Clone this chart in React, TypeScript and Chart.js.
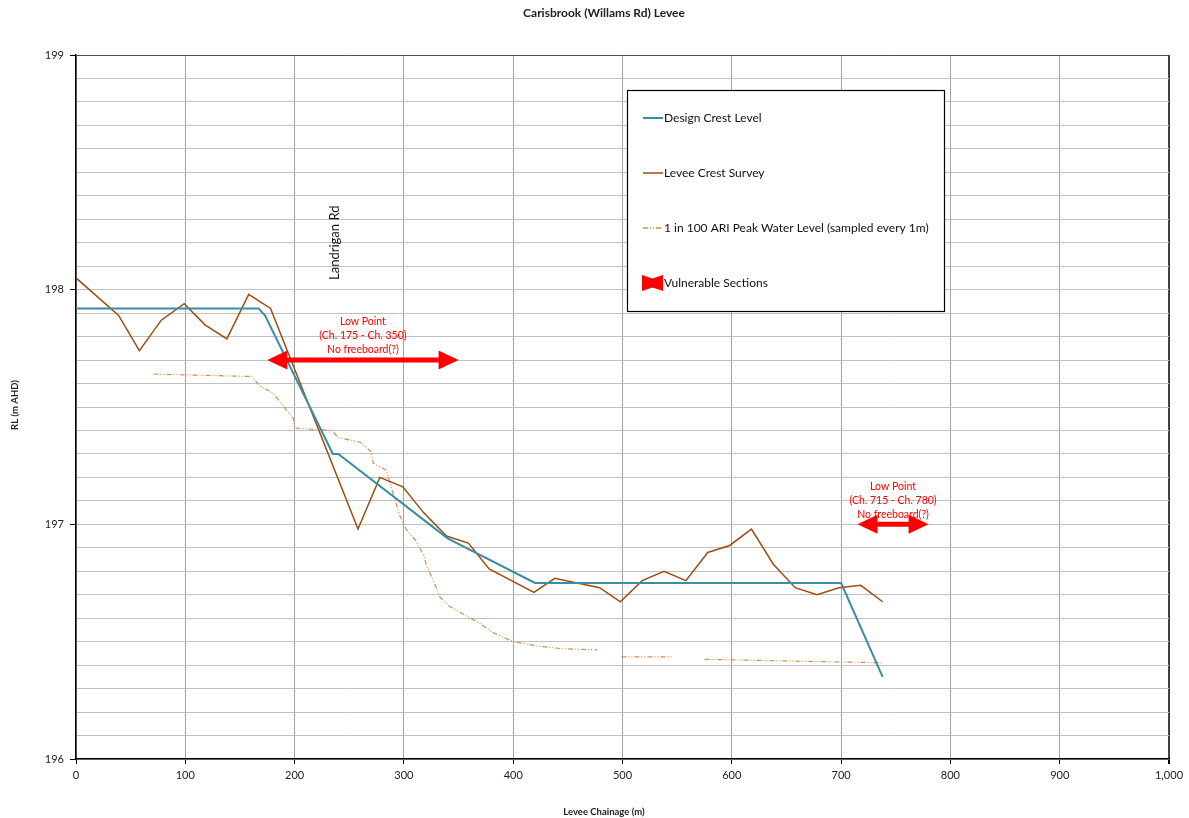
import React, { useEffect, useRef } from 'react';
import { Chart, registerables } from 'chart.js';

Chart.register(...registerables);

const TITLE = 'Carisbrook (Willams Rd) Levee';
const X_TITLE = 'Levee Chainage (m)';
const Y_TITLE = 'RL (m AHD)';

const X_MIN = 0;
const X_MAX = 1000;
const X_STEP = 100;
const Y_MIN = 196;
const Y_MAX = 199;
const Y_STEP = 0.1;

const seriesNames = [
  'Design Crest Level',
  'Levee Crest Survey',
  '1 in 100 ARI Peak Water Level (sampled every 1m)',
  'Vulnerable Sections',
];

const designX = [0, 167, 173, 235, 240, 340, 420, 700, 738];
const designY = [197.92, 197.92, 197.89, 197.3, 197.3, 196.94, 196.75, 196.75, 196.35];

const surveyX = [0, 39, 58, 78, 99, 118, 138, 158, 178, 258, 278, 299, 318, 339, 359, 378, 419, 438, 479, 498, 518, 538, 558, 578, 598, 618, 638, 658, 678, 698, 718, 738];
const surveyY = [198.05, 197.89, 197.74, 197.87, 197.94, 197.85, 197.79, 197.98, 197.92, 196.98, 197.2, 197.16, 197.05, 196.95, 196.92, 196.81, 196.71, 196.77, 196.73, 196.67, 196.76, 196.8, 196.76, 196.88, 196.91, 196.98, 196.83, 196.73, 196.7, 196.73, 196.74, 196.67];

const waterX = [71, 161, 168, 180, 187, 199, 200, 234, 240, 260, 270, 272, 284, 287, 296, 302, 311, 318, 321, 327, 333, 342, 357, 369, 381, 400, 424, 445, 477, 488, 499, 545, 560, 575, 625, 680, 739];
const waterY = [197.64, 197.63, 197.59, 197.56, 197.52, 197.45, 197.41, 197.4, 197.37, 197.35, 197.31, 197.26, 197.23, 197.18, 197.04, 196.98, 196.93, 196.87, 196.82, 196.76, 196.69, 196.65, 196.61, 196.58, 196.54, 196.5, 196.48, 196.47, 196.465, null, 196.435, 196.435, null, 196.425, 196.42, 196.415, 196.41];

const vulnStart = [175, 715];
const vulnEnd = [350, 780];
const vulnLevel = [197.7, 197.0];
const vulnLabels = [
  ['Low Point', '(Ch. 175 - Ch. 350)', 'No freeboard(?)'],
  ['Low Point', '(Ch. 715 - Ch. 780)', 'No freeboard(?)'],
];

const roadLabel = 'Landrigan Rd';
const roadX = 237;
const roadY = 198.2;

const DESIGN_COLOR = '#3b8ca6';
const SURVEY_COLOR = '#9c4d12';
const WATER_COLOR = '#d48c4f';
const RED = '#ff0000';
const FONT = 'Lato, "Noto Sans", sans-serif';

function drawArrow(ctx: CanvasRenderingContext2D, x1: number, x2: number, y: number) {
  const head = 20;
  const half = 9.5;
  ctx.save();
  ctx.fillStyle = RED;
  ctx.strokeStyle = RED;
  ctx.lineWidth = 5;
  ctx.beginPath();
  ctx.moveTo(x1 + head - 2, y);
  ctx.lineTo(x2 - head + 2, y);
  ctx.stroke();
  ctx.beginPath();
  ctx.moveTo(x1, y);
  ctx.lineTo(x1 + head, y - half);
  ctx.lineTo(x1 + head, y + half);
  ctx.closePath();
  ctx.fill();
  ctx.beginPath();
  ctx.moveTo(x2, y);
  ctx.lineTo(x2 - head, y - half);
  ctx.lineTo(x2 - head, y + half);
  ctx.closePath();
  ctx.fill();
  ctx.restore();
}

const overlayPlugin = {
  id: 'overlay',
  afterDraw(chart: any) {
    const ctx: CanvasRenderingContext2D = chart.ctx;
    const xs = chart.scales.x;
    const ys = chart.scales.y;
    ctx.save();

    // title
    ctx.fillStyle = '#222';
    ctx.font = `bold 12px ${FONT}`;
    ctx.textAlign = 'center';
    ctx.textBaseline = 'middle';
    ctx.fillText(TITLE, 604, 13);

    // axis titles
    ctx.font = `bold 9.5px ${FONT}`;
    ctx.fillText(X_TITLE, 604, 812);
    ctx.save();
    ctx.translate(15, 405);
    ctx.rotate(-Math.PI / 2);
    ctx.fillText(Y_TITLE, 0, 0);
    ctx.restore();

    // road label
    ctx.save();
    ctx.fillStyle = '#111';
    ctx.font = `13px ${FONT}`;
    ctx.translate(xs.getPixelForValue(roadX), ys.getPixelForValue(roadY));
    ctx.rotate(-Math.PI / 2);
    ctx.textAlign = 'center';
    ctx.textBaseline = 'middle';
    ctx.fillText(roadLabel, 0, 0);
    ctx.restore();

    // vulnerable sections
    for (let i = 0; i < vulnStart.length; i++) {
      const x1 = xs.getPixelForValue(vulnStart[i]);
      const x2 = xs.getPixelForValue(vulnEnd[i]);
      const y = ys.getPixelForValue(vulnLevel[i]);
      drawArrow(ctx, x1, x2, y);
      ctx.fillStyle = RED;
      ctx.font = `10.5px ${FONT}`;
      ctx.textAlign = 'center';
      ctx.textBaseline = 'middle';
      const cx = (x1 + x2) / 2;
      const lines = vulnLabels[i];
      for (let j = 0; j < lines.length; j++) {
        ctx.fillText(lines[j], cx, y - 10 - (lines.length - 1 - j) * 14);
      }
    }

    // legend
    const lx = 627, ly = 90, lw = 317, lh = 221;
    ctx.fillStyle = '#fff';
    ctx.fillRect(lx, ly, lw, lh);
    ctx.strokeStyle = '#000';
    ctx.lineWidth = 1.2;
    ctx.strokeRect(lx + 0.5, ly + 0.5, lw, lh);
    const rows = [118, 173, 228, 283];
    ctx.font = `12px ${FONT}`;
    ctx.textAlign = 'left';
    ctx.textBaseline = 'middle';
    for (let i = 0; i < seriesNames.length; i++) {
      const ry = rows[i];
      if (i < 3) {
        ctx.save();
        ctx.beginPath();
        ctx.strokeStyle = i === 0 ? DESIGN_COLOR : i === 1 ? SURVEY_COLOR : WATER_COLOR;
        ctx.lineWidth = i === 0 ? 2 : 1.5;
        if (i === 2) ctx.setLineDash([5, 2, 1, 2, 1, 2]);
        ctx.moveTo(643, ry);
        ctx.lineTo(663, ry);
        ctx.stroke();
        ctx.restore();
      } else {
        ctx.fillStyle = RED;
        ctx.beginPath();
        ctx.moveTo(642, ry - 8);
        ctx.lineTo(652.5, ry - 4.5);
        ctx.lineTo(663, ry - 8);
        ctx.lineTo(663, ry + 8);
        ctx.lineTo(652.5, ry + 4.5);
        ctx.lineTo(642, ry + 8);
        ctx.closePath();
        ctx.fill();
      }
      ctx.fillStyle = '#111';
      ctx.fillText(seriesNames[i], 664, ry);
    }
    ctx.restore();
  },
};

function isInt(v: number) {
  return Math.abs(v - Math.round(v)) < 1e-6;
}

export default function App() {
  const canvasRef = useRef<HTMLCanvasElement | null>(null);

  useEffect(() => {
    document.body.style.margin = '0';
    document.body.style.overflow = 'hidden';
    const canvas = canvasRef.current;
    if (!canvas) return;
    const chart = new Chart(canvas, {
      type: 'line',
      data: {
        datasets: [
          {
            label: seriesNames[0],
            data: designX.map((x, i) => ({ x, y: designY[i] })),
            borderColor: DESIGN_COLOR,
            borderWidth: 2,
            pointRadius: 0,
            tension: 0,
          },
          {
            label: seriesNames[1],
            data: surveyX.map((x, i) => ({ x, y: surveyY[i] })),
            borderColor: SURVEY_COLOR,
            borderWidth: 1.5,
            pointRadius: 0,
            tension: 0,
          },
          {
            label: seriesNames[2],
            data: waterX.map((x, i) => ({ x, y: waterY[i] })),
            borderColor: WATER_COLOR,
            borderWidth: 1.2,
            borderDash: [5, 2, 1, 2, 1, 2],
            pointRadius: 0,
            tension: 0,
            spanGaps: false,
          },
        ],
      },
      options: {
        animation: false,
        responsive: false,
        devicePixelRatio: 1,
        layout: { padding: { top: 55, right: 20, left: 0, bottom: 0 } },
        plugins: {
          legend: { display: false },
          title: { display: false },
          tooltip: { enabled: false },
        },
        scales: {
          x: {
            type: 'linear',
            min: X_MIN,
            max: X_MAX,
            afterFit: (s: any) => { s.height = 59; },
            border: { display: true, color: '#000', width: 1.5 },
            grid: {
              color: (c: any) => (c.tick && c.tick.value === X_MAX ? '#404040' : '#a3a3a3'),
              lineWidth: (c: any) => (c.tick && c.tick.value === X_MAX ? 2 : 1),
              tickColor: '#000',
              tickLength: 5,
            },
            ticks: {
              stepSize: X_STEP,
              autoSkip: false,
              maxRotation: 0,
              padding: 5,
              color: '#222',
              font: { family: FONT, size: 11 },
              callback: (v: any) => Number(v).toLocaleString('en-US'),
            },
          },
          y: {
            type: 'linear',
            min: Y_MIN,
            max: Y_MAX,
            afterFit: (s: any) => { s.width = 76; },
            border: { display: true, color: '#000', width: 1.5 },
            grid: {
              color: (c: any) => (c.tick && isInt(c.tick.value) && c.tick.value >= Y_MAX - 1e-6 ? '#505050' : '#c0c0c0'),
              lineWidth: 1,
              tickColor: (c: any) => (c.tick && isInt(c.tick.value) ? '#000' : 'rgba(0,0,0,0)'),
              tickLength: 6,
            },
            ticks: {
              stepSize: Y_STEP,
              autoSkip: false,
              padding: 6,
              color: '#222',
              font: { family: FONT, size: 11 },
              callback: (v: any) => (isInt(Number(v)) ? String(Math.round(Number(v))) : ''),
            },
          },
        },
      },
      plugins: [overlayPlugin],
    } as any);
    return () => chart.destroy();
  }, []);

  return (
    <div style={{ position: 'absolute', left: 0, top: 0, width: 1189, height: 818, background: '#fff' }}>
      <canvas ref={canvasRef} width={1189} height={818} style={{ display: 'block', width: 1189, height: 818 }} />
    </div>
  );
}
